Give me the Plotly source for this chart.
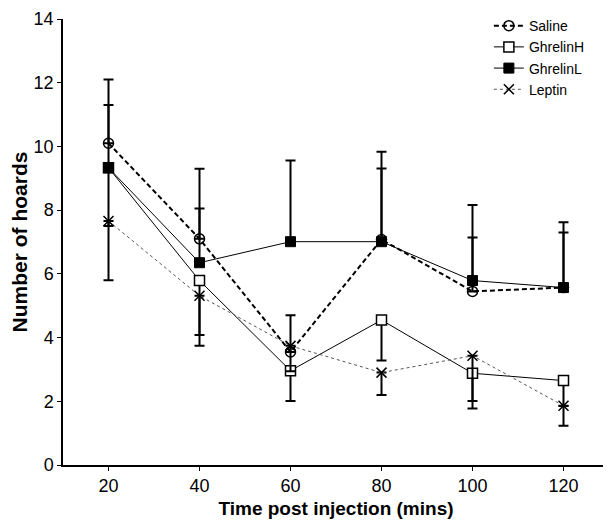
import plotly.graph_objects as go

time = [20, 40, 60, 80, 100, 120]

saline = [10.1, 7.1, 3.55, 7.08, 5.45, 5.57]
saline_err_up = [2.0, 2.2, 1.15, 2.75, 1.69, 1.73]

ghrelin_h = [9.33, 5.79, 2.96, 4.55, 2.88, 2.65]
ghrelin_h_err_down = [1.83, 2.05, 0.95, 1.27, 0.87, 0.8]

ghrelin_l = [9.33, 6.35, 7.01, 7.01, 5.79, 5.57]
ghrelin_l_err_up = [1.97, 1.7, 2.55, 2.3, 2.37, 2.05]

leptin = [7.66, 5.31, 3.74, 2.9, 3.43, 1.86]
leptin_err_down = [1.86, 1.23, 0.8, 0.7, 1.66, 0.63]

zeros = [0] * len(time)

fig = go.Figure()

def eb(up, down):
    return dict(type="data", symmetric=False, array=up, arrayminus=down,
                color="black", thickness=2, width=5, visible=True)

fig.add_trace(go.Scatter(
    x=time, y=saline, name="Saline", mode="lines+markers",
    line=dict(color="black", width=2, dash="5px,3px"),
    marker=dict(symbol="circle-open", size=10, color="black", line=dict(width=1.5)),
    error_y=eb(saline_err_up, zeros)))

fig.add_trace(go.Scatter(
    x=time, y=ghrelin_h, name="GhrelinH", mode="lines+markers",
    line=dict(color="black", width=1),
    marker=dict(symbol="square", size=10, color="white", line=dict(width=1.5, color="black")),
    error_y=eb(zeros, ghrelin_h_err_down)))

fig.add_trace(go.Scatter(
    x=time, y=ghrelin_l, name="GhrelinL", mode="lines+markers",
    line=dict(color="black", width=1),
    marker=dict(symbol="square", size=10, color="black", line=dict(width=1, color="black")),
    error_y=eb(ghrelin_l_err_up, zeros)))

fig.add_trace(go.Scatter(
    x=time, y=leptin, name="Leptin", mode="lines+markers",
    line=dict(color="#555555", width=1, dash="dot"),
    marker=dict(symbol="x-thin-open", size=10, color="black", line=dict(width=1.5, color="black")),
    error_y=eb(zeros, leptin_err_down)))

fig.update_layout(
    width=611, height=526,
    margin=dict(l=55, r=10, t=11, b=69, autoexpand=False),
    plot_bgcolor="white", paper_bgcolor="white",
    font=dict(family="Liberation Sans, Arial, sans-serif", color="black", size=18),
    showlegend=True,
    legend=dict(x=0.78, y=1.02, xanchor="left", yanchor="top", bgcolor="rgba(0,0,0,0)",
                font=dict(size=14), itemwidth=30, tracegroupgap=0),
    xaxis=dict(range=[10, 130], tickvals=time, ticks="outside", ticklen=4,
               showline=True, linecolor="black", linewidth=1.5, showgrid=False,
               zeroline=False, tickcolor="black", automargin=False,
               title=dict(text="<b>Time post injection (mins)</b>", font=dict(size=19), standoff=6)),
    yaxis=dict(range=[0, 14], tickvals=[0, 2, 4, 6, 8, 10, 12, 14], ticks="outside", ticklen=4,
               showline=True, linecolor="black", linewidth=1.5, showgrid=False,
               zeroline=False, tickcolor="black", automargin=False,
               title=dict(text="<b>Number of hoards</b>", font=dict(size=21), standoff=8)),
)

fig.write_html("out.html")
